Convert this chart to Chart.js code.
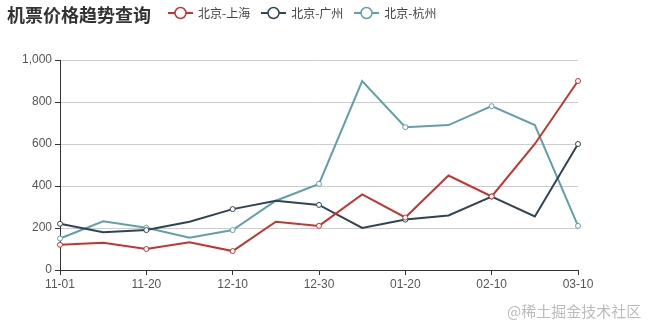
<!DOCTYPE html>
<html>
<head>
<meta charset="utf-8">
<script src="https://cdn.jsdelivr.net/npm/chart.js@4"></script>
<style>
	body { margin: 0; background: #fff; font-family: "Noto Sans CJK SC", sans-serif; }
	#wrap { position: relative; width: 654px; height: 330px; }
	#title { position: absolute; left: 7px; top: 1px; font-size: 18px; font-weight: bold; color: #333; }
	#legend { position: absolute; left: 168px; top: 4px; display: flex; font-size: 12px; color: #444; }
	.item { display: flex; align-items: center; margin-right: 11px; }
	.item svg { margin-right: 5px; }
	#mark { position: absolute; left: 507px; top: 300px; font-size: 15px; color: #bbb; }
</style>
</head>
<body>
<div id="wrap">
	<canvas id="chart" width="654" height="330"></canvas>
	<div id="title">机票价格趋势查询</div>
	<div id="legend"></div>
	<div id="mark">@稀土掘金技术社区</div>
</div>
<script>
// ================ data ================
const dates = ["11-01", "11-10", "11-20", "11-30", "12-10", "12-20", "12-30", "01-10", "01-20", "01-30", "02-10", "02-20", "03-10"];
const shanghai = [120, 130, 100, 132, 90, 230, 210, 360, 250, 450, 350, 600, 900];
const guangzhou = [220, 180, 190, 230, 290, 330, 310, 200, 240, 260, 350, 255, 600];
const hangzhou = [150, 232, 201, 154, 190, 330, 410, 900, 680, 690, 780, 690, 210];
const seriesNames = ["北京-上海", "北京-广州", "北京-杭州"];
const colors = ["#c23531", "#2f4554", "#61a0a8"];

// legend in html
const legend = document.getElementById("legend");
seriesNames.forEach((name, i) => {
	legend.innerHTML += `<div class="item"><svg width="25" height="14"><line x1="0" y1="7" x2="25" y2="7" stroke="${colors[i]}" stroke-width="2"/><circle cx="12.5" cy="7" r="5.5" fill="#fff" stroke="${colors[i]}" stroke-width="1.5"/></svg>${name}</div>`;
});

// symbols only on labelled dates
const radius = dates.map((d, i) => (i % 2 == 0 ? 2.5 : 0));

function makeSet(label, data, color) {
	return {
		label,
		data,
		borderColor: color,
		backgroundColor: "#fff",
		borderWidth: 2,
		pointRadius: radius,
		pointBorderWidth: 1,
		pointBackgroundColor: "#fff",
		pointBorderColor: color,
		tension: 0,
	};
}

const tickFont = { family: "Liberation Sans", size: 12 };

new Chart(document.getElementById("chart"), {
	type: "line",
	data: {
		labels: dates,
		datasets: [
			makeSet(seriesNames[0], shanghai, colors[0]),
			makeSet(seriesNames[1], guangzhou, colors[1]),
			makeSet(seriesNames[2], hangzhou, colors[2]),
		],
	},
	options: {
		responsive: false,
		animation: false,
		devicePixelRatio: 1,
		layout: { padding: { left: 0, top: 60, right: 76, bottom: 0 } },
		plugins: { legend: { display: false }, tooltip: { enabled: false } },
		scales: {
			x: {
				offset: false,
				afterFit: (axis) => { axis.height = 60; },
				grid: { drawOnChartArea: false, tickLength: 5, tickColor: "#333" },
				border: { color: "#333", width: 1 },
				ticks: {
					autoSkip: false,
					maxRotation: 0,
					color: "#555",
					padding: 2,
					font: tickFont,
					callback: function (v, i) { return i % 2 == 0 ? dates[i] : null; },
				},
			},
			y: {
				min: 0,
				max: 1000,
				afterFit: (axis) => { axis.width = 60; },
				grid: { color: "#ccc", tickLength: 5, tickColor: "#333" },
				border: { color: "#333", width: 1 },
				ticks: {
					stepSize: 200,
					color: "#555",
					padding: 3,
					font: tickFont,
					callback: (v) => v.toLocaleString("en-US"),
				},
			},
		},
	},
});
</script>
</body>
</html>
